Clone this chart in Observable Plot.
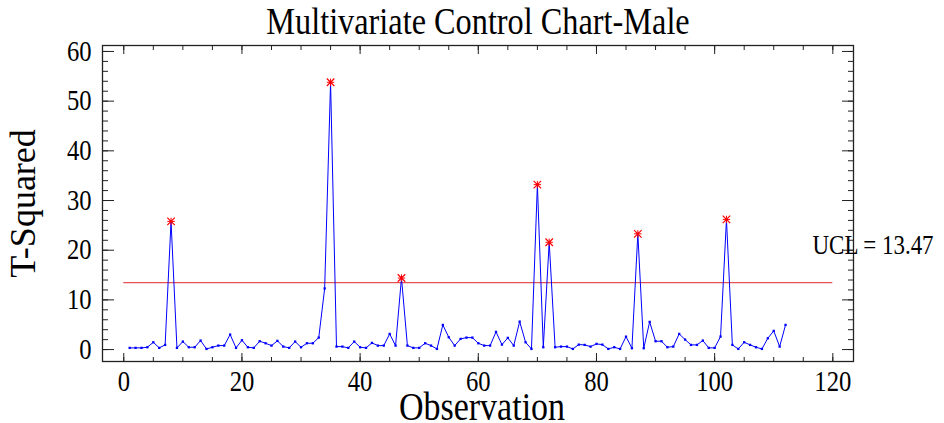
<!DOCTYPE html>
<html>
<head>
<meta charset="utf-8">
<script src="https://cdn.jsdelivr.net/npm/d3@7"></script>
<script src="https://cdn.jsdelivr.net/npm/@observablehq/plot@0.6"></script>
<style>
  html, body { margin: 0; padding: 0; background: #ffffff; }
  svg text { font-family: "Liberation Serif", "Times New Roman", serif; }
</style>
</head>
<body>
<div id="chart"></div>
<script>
const title = "Multivariate Control Chart-Male";
const xLabel = "Observation";
const yLabel = "T-Squared";
const ucl = 13.47;
const tSquared = [
  0.34, 0.34, 0.34, 0.47, 1.47, 0.34, 0.94, 25.8, 0.34, 1.61,
  0.47, 0.47, 1.81, 0.13, 0.47, 0.8, 0.8, 3.02, 0.34, 1.88,
  0.47, 0.34, 1.68, 1.27, 0.8, 1.75, 0.6, 0.34, 1.61, 0.47,
  1.27, 1.27, 2.41, 12.3, 53.8, 0.6, 0.6, 0.34, 1.61, 0.47,
  0.34, 1.34, 0.8, 0.8, 3.15, 0.8, 14.4, 0.8, 0.34, 0.34,
  1.27, 0.8, 0.13, 4.96, 2.48, 0.8, 2.15, 2.41, 2.41, 1.27,
  0.8, 0.8, 3.56, 1.0, 2.35, 0.8, 5.63, 1.47, 0.13, 33.2,
  0.47, 21.6, 0.47, 0.6, 0.6, 0.13, 1.0, 0.94, 0.6, 1.14,
  1.0, 0.13, 0.47, 0.13, 2.6, 0.27, 23.3, 0.27, 5.57, 1.68,
  1.68, 0.47, 0.6, 3.15, 2.01, 0.94, 0.94, 1.81, 0.34, 0.34,
  2.62, 26.2, 0.94, 0.13, 1.47, 0.94, 0.47, 0.13, 2.28, 3.76,
  0.6, 4.96
];
const xTicks = [0, 20, 40, 60, 80, 100, 120];
const yTicks = [0, 10, 20, 30, 40, 50, 60];
const xMinorTicks = d3.range(0, 121, 5);
const yMinorTicks = d3.range(0, 61, 2);

const data = tSquared.map((v, i) => ({obs: i + 1, t2: v}));
const outliers = data.filter(d => d.t2 > ucl);

const font = "Liberation Serif";
const blank = () => "";

const chart = Plot.plot({
  width: 944,
  height: 423,
  marginLeft: 102,
  marginRight: 91,
  marginTop: 45,
  marginBottom: 62,
  style: {fontFamily: font, background: "#ffffff", color: "#000", overflow: "visible"},
  x: {domain: [-3.6, 123.5]},
  y: {domain: [-2.4, 61.2]},
  marks: [
    // tick labels
    Plot.axisX({anchor: "bottom", ticks: xTicks, tickSize: 0, tickPadding: 9, fontSize: 29, label: null}),
    Plot.axisY({anchor: "left", ticks: yTicks, tickSize: 0, tickPadding: 11, fontSize: 29, label: null}),
    // inward ticks, left & right
    Plot.axisY({anchor: "left", ticks: yTicks, tickSize: 12, dx: 12, tickFormat: blank, label: null, stroke: "#222"}),
    Plot.axisY({anchor: "left", ticks: yMinorTicks, tickSize: 6, dx: 6, tickFormat: blank, label: null, stroke: "#222"}),
    Plot.axisY({anchor: "right", ticks: yTicks, tickSize: 12, dx: -12, tickFormat: blank, label: null, stroke: "#222"}),
    Plot.axisY({anchor: "right", ticks: yMinorTicks, tickSize: 6, dx: -6, tickFormat: blank, label: null, stroke: "#222"}),
    // inward ticks, bottom & top
    Plot.axisX({anchor: "bottom", ticks: xTicks, tickSize: 8, dy: -8, tickFormat: blank, label: null, stroke: "#222"}),
    Plot.axisX({anchor: "bottom", ticks: xMinorTicks, tickSize: 4, dy: -4, tickFormat: blank, label: null, stroke: "#222"}),
    Plot.axisX({anchor: "top", ticks: xTicks, tickSize: 8, dy: 8, tickFormat: blank, label: null, stroke: "#222"}),
    Plot.axisX({anchor: "top", ticks: xMinorTicks, tickSize: 4, dy: 4, tickFormat: blank, label: null, stroke: "#222"}),
    Plot.frame({stroke: "#222", strokeWidth: 1.3}),
    // UCL
    Plot.ruleY([ucl], {x1: 0, x2: 120, stroke: "#e8504f", strokeWidth: 1.2}),
    Plot.text([`UCL = ${ucl}`], {frameAnchor: "right", y: () => ucl, textAnchor: "start", lineAnchor: "middle", dx: -41, dy: -37, fontSize: 27, fill: "#000"}),
    // series
    Plot.line(data, {x: "obs", y: "t2", stroke: "#0000ff", strokeWidth: 1}),
    Plot.dot(data, {x: "obs", y: "t2", symbol: "square", r: 1.3, fill: "#0000ff", stroke: "none"}),
    Plot.dot(outliers, {x: "obs", y: "t2", symbol: "times", r: 3.5, stroke: "#ff0000", strokeWidth: 1.2}),
    Plot.dot(outliers, {x: "obs", y: "t2", symbol: "plus", r: 2.5, stroke: "#ff0000", strokeWidth: 1}),
    // titles
    Plot.text([title], {frameAnchor: "top", textAnchor: "middle", lineAnchor: "middle", dy: -24, fontSize: 38, fill: "#000"}),
    Plot.text([xLabel], {frameAnchor: "bottom", textAnchor: "middle", lineAnchor: "middle", dx: 4, dy: 46, fontSize: 40, fill: "#000"}),
    Plot.text([yLabel], {frameAnchor: "left", textAnchor: "middle", lineAnchor: "middle", dx: -79, rotate: -90, fontSize: 36, fill: "#000"})
  ]
});
document.getElementById("chart").appendChild(chart);

// The reference's horizontal texts are narrow (condensed): squeeze glyph widths.
chart.querySelectorAll("text").forEach(el => {
  if (el.textContent === yLabel || !el.textContent.trim()) return;
  const len = el.getComputedTextLength();
  el.setAttribute("textLength", (len * 0.85).toFixed(1));
  el.setAttribute("lengthAdjust", "spacingAndGlyphs");
});
</script>
</body>
</html>
